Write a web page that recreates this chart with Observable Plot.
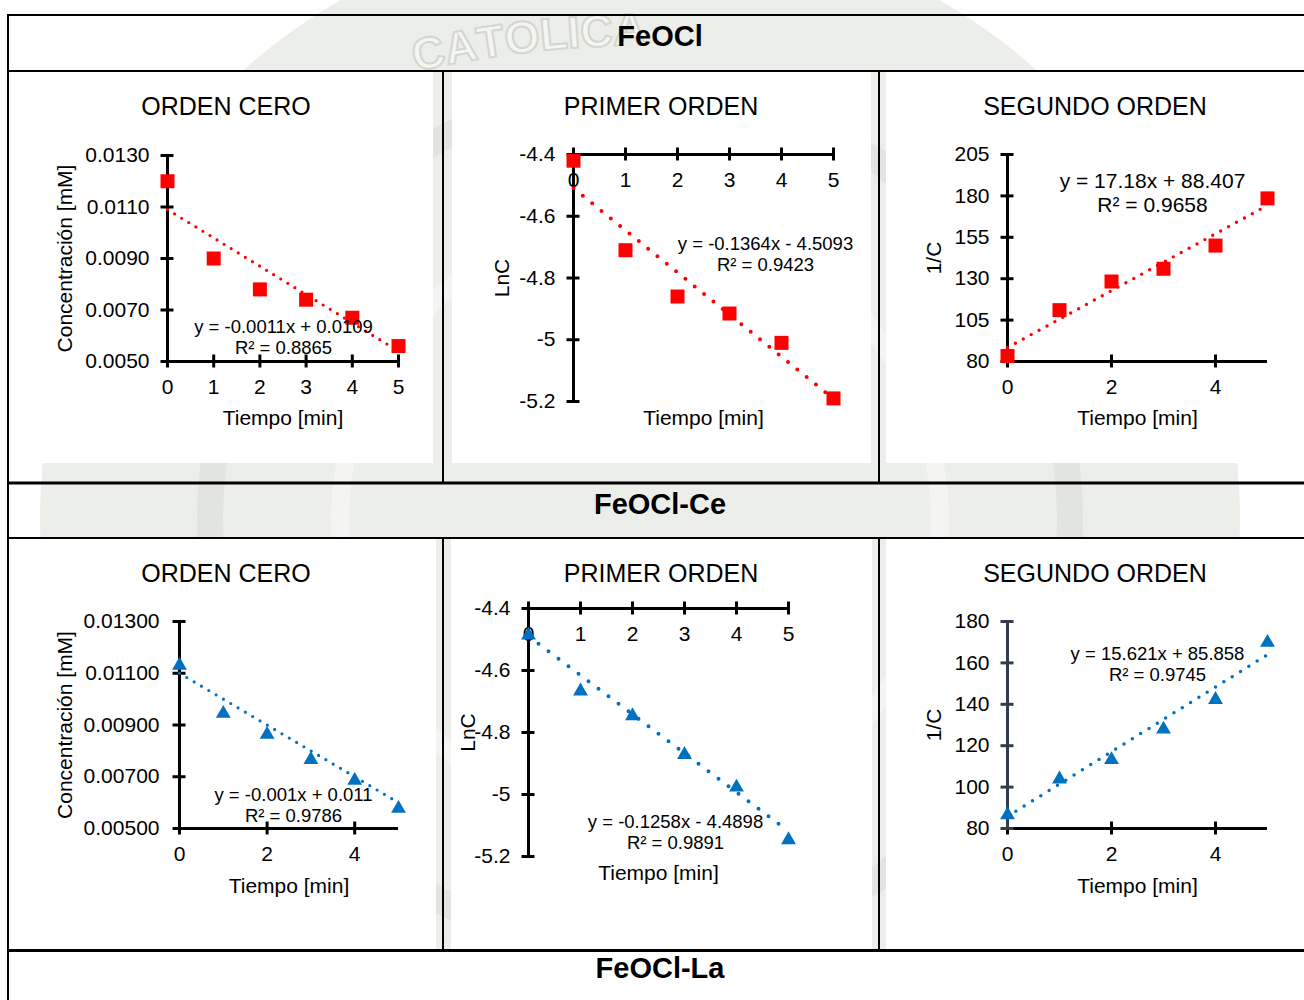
<!DOCTYPE html>
<html>
<head>
<meta charset="utf-8">
<script src="https://cdn.jsdelivr.net/npm/d3@7"></script>
<script src="https://cdn.jsdelivr.net/npm/@observablehq/plot@0.6"></script>
<style>
  body { margin: 0; background: #fff; }
  #page { position: relative; width: 1304px; height: 1000px; overflow: hidden;
          font-family: "Liberation Sans", Arial, sans-serif; color: #000; background: #fff; }
  #page > svg { position: absolute; }
  .hdr { position: absolute; left: 12px; width: 1296px; text-align: center;
         font-weight: bold; font-size: 29px; line-height: 34px; }
  .ttl { position: absolute; width: 320px; text-align: center; font-size: 25px; line-height: 30px; }
</style>
</head>
<body>
<div id="page"></div>
<script>
// ---- data ----------------------------------------------------------------
const tiempo = [0, 1, 2, 3, 4, 5];
const muestras = ["FeOCl", "FeOCl-Ce", "FeOCl-La"];
const ordenes = ["ORDEN CERO", "PRIMER ORDEN", "SEGUNDO ORDEN"];
const etiquetasY = ["Concentración [mM]", "LnC", "1/C"];
const etiquetaX = "Tiempo [min]";
const sello = "CATOLICA";

// FeOCl
const feoclC = [0.0120, 0.0090, 0.0078, 0.0074, 0.0067, 0.0056];
const feoclLnC = [-4.42, -4.71, -4.86, -4.915, -5.01, -5.19];
const feoclInvC = [83.3, 111.0, 128.3, 136.0, 150.0, 178.5];
const feoclPendiente = [-0.0011, -0.1364, 17.18];
const feoclIntercepto = [0.0109, -4.5093, 88.407];
const feoclR2 = [0.8865, 0.9423, 0.9658];

// FeOCl-Ce
const ceC = [0.01138, 0.00952, 0.00871, 0.00774, 0.00693, 0.00585];
const ceLnC = [-4.48, -4.66, -4.74, -4.865, -4.97, -5.14];
const ceInvC = [87.5, 104.8, 114.2, 128.9, 143.2, 170.8];
const cePendiente = [-0.001, -0.1258, 15.621];
const ceIntercepto = [0.011, -4.4898, 85.858];
const ceR2 = [0.9786, 0.9891, 0.9745];

// axis ticks
const ticksConc = [0.005, 0.007, 0.009, 0.011, 0.013];
const ticksLn = [-5.2, -5, -4.8, -4.6, -4.4];
const ticksInvFeOCl = [80, 105, 130, 155, 180, 205];
const ticksInvCe = [80, 100, 120, 140, 160, 180];
const ticksTiempo = [0, 1, 2, 3, 4, 5];
const ticksTiempoPar = [0, 2, 4];

// ---- layout ---------------------------------------------------------------
const page = document.getElementById("page");
const W = 1304, H = 1000;
const colX = [8, 443, 879, 1304];
const rowY = [[71, 483], [538, 950]];
const series = [
  { color: "#ff0000", symbol: "square", r: 7.9, dy: 0 },
  { color: "#0070c0", symbol: "triangle", r: 5.5, dy: 2 }
];

// background: faint seal, white chart areas and table rules
const bg = d3.create("svg").attr("width", W).attr("height", H).attr("viewBox", `0 0 ${W} ${H}`)
  .style("left", "0px").style("top", "0px");
bg.append("defs").append("clipPath").attr("id", "clipSeal").append("rect")
  .attr("x", 0).attr("y", 0).attr("width", W).attr("height", 949);
const seal = bg.append("g").attr("clip-path", "url(#clipSeal)");
seal.append("circle").attr("cx", 640).attr("cy", 520).attr("r", 600).attr("fill", "#eceee9");
seal.append("circle").attr("cx", 640).attr("cy", 520).attr("r", 430).attr("fill", "none")
  .attr("stroke", "#e2e5df").attr("stroke-width", 26);
seal.append("circle").attr("cx", 640).attr("cy", 520).attr("r", 300).attr("fill", "none")
  .attr("stroke", "#f4f5f2").attr("stroke-width", 18);

// seal lettering, one glyph at a time along a wide upper arc
const arco = { x: 650, y: 1095, r: 1050 };
const selloSize = 45;
const selloCentro = 530;
const anchoLetra = { C: 0.722, A: 0.722, T: 0.611, O: 0.778, L: 0.611, I: 0.278 };
const letras = sello.split("");
const anchos = letras.map(c => (anchoLetra[c] || 0.7) * selloSize);
const total = d3.sum(anchos);
let s = arco.r * (Math.PI - Math.acos((selloCentro - arco.x) / arco.r)) - total / 2;
const glifos = letras.map((c, i) => {
  const sMid = s + anchos[i] / 2;
  s += anchos[i];
  const th = Math.PI - sMid / arco.r;
  return { c, x: arco.x + arco.r * Math.cos(th), y: arco.y - arco.r * Math.sin(th),
           rot: (Math.PI / 2 - th) * 180 / Math.PI };
});
seal.append("g").attr("font-family", "Liberation Sans, Arial, sans-serif")
  .attr("font-weight", "bold").attr("font-size", selloSize)
  .attr("fill", "#f5f6f3").attr("stroke", "#d3d7cf").attr("stroke-width", 2)
  .attr("text-anchor", "middle")
  .selectAll("text").data(glifos).join("text")
  .attr("transform", d => `translate(${d.x},${d.y}) rotate(${d.rot})`)
  .text(d => d.c);

const blancos = [
  [9, 72, 424, 391], [452, 72, 419, 391], [886, 72, 418, 391],
  [9, 539, 427, 410], [451, 539, 421, 410], [886, 539, 418, 410]
];
bg.append("g").attr("fill", "#fff").selectAll("rect").data(blancos).join("rect")
  .attr("x", d => d[0]).attr("y", d => d[1]).attr("width", d => d[2]).attr("height", d => d[3]);

const reglas = [
  [8, 14, 1296, 2], [7, 14, 2, 986], [8, 70, 1296, 2], [8, 481.5, 1296, 3],
  [8, 537, 1296, 2], [8, 949, 1296, 3],
  [442, 70, 2, 413], [878, 70, 2, 413], [442, 537, 2, 413], [878, 537, 2, 413]
];
bg.append("g").attr("fill", "#000").selectAll("rect").data(reglas).join("rect")
  .attr("x", d => d[0]).attr("y", d => d[1]).attr("width", d => d[2]).attr("height", d => d[3]);
page.appendChild(bg.node());

// sample headers and chart titles
const hdrTop = [18.5, 487, 951];
muestras.forEach((m, i) => {
  const d = document.createElement("div");
  d.className = "hdr"; d.style.top = hdrTop[i] + "px"; d.textContent = m;
  page.appendChild(d);
});
const ttlCenter = [226, 661, 1095];
[91, 558].forEach(top => ordenes.forEach((o, j) => {
  const d = document.createElement("div");
  d.className = "ttl"; d.style.top = top + "px"; d.style.left = (ttlCenter[j] - 160) + "px";
  d.textContent = o;
  page.appendChild(d);
}));

// ---- panels -----------------------------------------------------------------
const panels = [
  { row: 0, col: 0, s: 0, v: feoclC, m: feoclPendiente[0], b: feoclIntercepto[0], r2: feoclR2[0],
    yDom: [0.005, 0.013], yTicks: ticksConc, yFmt: d3.format(".4f"), xTicks: ticksTiempo, xTop: false,
    frame: [167, 398, 155, 361], eq: [116, 181.5, 18.5, 1.14], yLab: -102, xLab: 57, pad: 18, dots: [3.2, 8.3] },
  { row: 0, col: 1, s: 0, v: feoclLnC, m: feoclPendiente[1], b: feoclIntercepto[1], r2: feoclR2[1],
    yDom: [-5.2, -4.4], yTicks: ticksLn, yFmt: d => String(d), xTicks: ticksTiempo, xTop: true,
    frame: [573, 833, 154, 401], eq: [192, 99, 18.5, 1.14], yLab: -71, xLab: 17, pad: 18, dots: [4, 12] },
  { row: 0, col: 2, s: 0, v: feoclInvC, m: feoclPendiente[2], b: feoclIntercepto[2], r2: feoclR2[2],
    yDom: [80, 205], yTicks: ticksInvFeOCl, yFmt: d => String(d), xTicks: ticksTiempoPar, xTop: false,
    frame: [1007, 1267, 154, 361], eq: [145, 38, 21, 1.12], yLab: -73, xLab: 57, pad: 18, dots: [3.4, 9] },
  { row: 1, col: 0, s: 1, v: ceC, m: cePendiente[0], b: ceIntercepto[0], r2: ceR2[0],
    yDom: [0.005, 0.013], yTicks: ticksConc, yFmt: d3.format(".5f"), xTicks: ticksTiempoPar, xTop: false,
    frame: [179, 398, 621, 828], eq: [114, 183, 18.5, 1.14], yLab: -114, xLab: 58, pad: 20, dots: [3.2, 8.5] },
  { row: 1, col: 1, s: 1, v: ceLnC, m: cePendiente[1], b: ceIntercepto[1], r2: ceR2[1],
    yDom: [-5.2, -4.4], yTicks: ticksLn, yFmt: d => String(d), xTicks: ticksTiempo, xTop: true,
    frame: [528, 788, 608, 856], eq: [147, 223.5, 18.5, 1.14], yLab: -60, xLab: 17, pad: 18, dots: [4, 12.5] },
  { row: 1, col: 2, s: 1, v: ceInvC, m: cePendiente[2], b: ceIntercepto[2], r2: ceR2[2],
    yDom: [80, 180], yTicks: ticksInvCe, yFmt: d => String(d), xTicks: ticksTiempoPar, xTop: false,
    frame: [1007, 1267, 621, 828], eq: [150, 42.5, 18.5, 1.14], yLab: -73, xLab: 58, pad: 18, dots: [3.5, 9.8],
    yAxisColor: "#333d4a" }
];

function ecuacion(m, b, r2) {
  return `y = ${m}x ${b < 0 ? "-" : "+"} ${Math.abs(b)}\nR² = ${r2}`;
}

for (const p of panels) {
  const [cl, cr] = [colX[p.col], colX[p.col + 1]];
  const [ct, cb] = rowY[p.row];
  const [fl, fr, ft, fb] = p.frame;
  const st = series[p.s];
  const axisColor = "#000";
  const yAxisColor = p.yAxisColor || axisColor;
  const x0 = tiempo[0], x1 = tiempo[tiempo.length - 1];
  const yAt = p.xTop ? p.yDom[1] : p.yDom[0];
  const puntos = tiempo.map((t, i) => ({ t, v: p.v[i] }));
  const tendencia = [x0, x1].map(t => ({ t, v: p.m * t + p.b }));

  const xLabels = p.xTop
    ? Plot.text(p.xTicks, { x: d => d, frameAnchor: "top", dy: 26, text: d => String(d),
        fontSize: 21, lineAnchor: "middle", fill: "#000" })
    : Plot.axisX({ ticks: p.xTicks, tickSize: 0, tickPadding: 18, tickFormat: d => String(d),
        fontSize: 21, label: null, fill: "#000" });

  const svg = Plot.plot({
    width: cr - cl,
    height: cb - ct,
    marginLeft: fl - cl,
    marginRight: cr - fr,
    marginTop: ft - ct,
    marginBottom: cb - fb,
    x: { domain: [x0, x1], axis: null },
    y: { domain: p.yDom, axis: null },
    style: { background: "none", fontFamily: "Liberation Sans, Arial, sans-serif",
             fontSize: "21px", color: "#000", overflow: "visible" },
    marks: [
      // axis lines with crossing tick marks
      Plot.ruleY([yAt], { x1: x0, x2: x1, stroke: axisColor, strokeWidth: 3 }),
      Plot.ruleX(p.xTicks, { x: d => d, y1: yAt, y2: yAt, insetTop: -6.5, insetBottom: -6.5,
        stroke: axisColor, strokeWidth: 3 }),
      Plot.ruleX([x0], { y1: p.yDom[0], y2: p.yDom[1], stroke: yAxisColor, strokeWidth: 3 }),
      Plot.ruleY(p.yTicks, { y: d => d, x1: x0, x2: x0, insetLeft: -6.5, insetRight: -6.5,
        stroke: yAxisColor, strokeWidth: 3 }),
      Plot.axisY({ ticks: p.yTicks, tickSize: 0, tickPadding: p.pad, tickFormat: p.yFmt,
        fontSize: 21, label: null, fill: "#000" }),
      xLabels,
      // measured points
      Plot.dot(puntos, { x: "t", y: "v", symbol: st.symbol, r: st.r, fill: st.color,
        stroke: "none", dy: st.dy }),
      // linear trend line from the fitted equation
      Plot.line(tendencia, { x: "t", y: "v", stroke: st.color, strokeWidth: p.dots[0],
        strokeDasharray: `0 ${p.dots[1]}`, strokeLinecap: "round" }),
      // equation and R²
      Plot.text([ecuacion(p.m, p.b, p.r2)], { frameAnchor: "top-left", dx: p.eq[0], dy: p.eq[1],
        fontSize: p.eq[2], lineHeight: p.eq[3], textAnchor: "middle", lineAnchor: "middle", fill: "#000" }),
      // axis titles
      Plot.text([etiquetasY[p.col]], { frameAnchor: "left", dx: p.yLab, rotate: -90, fontSize: 21,
        textAnchor: "middle", lineAnchor: "middle", fill: "#000" }),
      Plot.text([etiquetaX], { frameAnchor: "bottom", dy: p.xLab, fontSize: 21,
        textAnchor: "middle", lineAnchor: "middle", fill: "#000" })
    ]
  });
  svg.style.position = "absolute";
  svg.style.left = cl + "px";
  svg.style.top = ct + "px";
  page.appendChild(svg);
}
</script>
</body>
</html>
